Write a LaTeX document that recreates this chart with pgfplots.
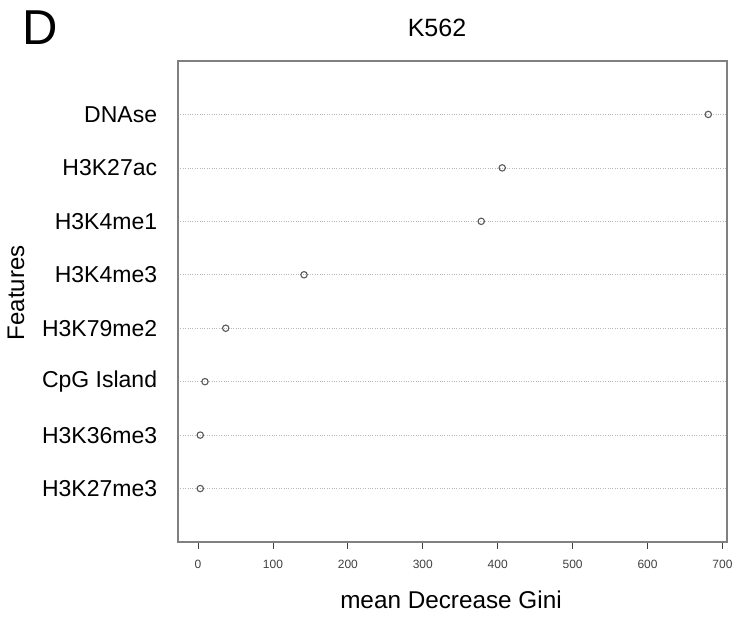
\documentclass[border=0pt]{standalone}
\usepackage{pgfplots}
\pgfplotsset{compat=1.18}
\usepackage{fontspec}
\setmainfont{Liberation Sans}
\begin{document}
\begin{tikzpicture}[x=1pt,y=1pt]
\useasboundingbox (0,0) rectangle (750,617);
\begin{axis}[
  at={(178pt,75pt)}, anchor=south west,
  width=549pt, height=481pt, scale only axis,
  xmin=-26.7, xmax=706, ymin=0, ymax=9,
  xtick={0,100,...,700},
  ytick={1,...,8},
  yticklabels={H3K27me3,H3K36me3,CpG Island,H3K79me2,H3K4me3,H3K4me1,H3K27ac,DNAse},
  axis line style={draw=black!50, line width=1.2pt},
  xtick pos=lower, ytick pos=left,
  tick align=outside,
  x tick style={draw=black!75, line width=0.8pt},
  major tick length=7pt,
  ytick style={draw=none},
  y tick label style={font=\fontsize{23}{23}\selectfont, anchor=east, inner sep=0pt, xshift=-13.7pt},
  x tick label style={font=\fontsize{12}{12}\selectfont, text=black!75, anchor=center, inner sep=0pt, yshift=-15pt},
  /pgf/number format/assume math mode=true,
  ymajorgrids, grid style={dotted, black!28, line width=0.6pt},
  clip=false,
]
\addplot[only marks, mark=o, mark size=3.2pt, mark options={draw=black!65, line width=1.1pt, fill=white}]
  coordinates {(3,1) (3,2) (9.3,3) (37,4) (141.5,5) (378,6) (406,7) (681,8)};
\end{axis}
\node[font=\fontsize{49}{49}\selectfont] at (40,589.5) {D};
\node[font=\fontsize{25}{25}\selectfont] at (437,589.5) {K562};
\node[font=\fontsize{24}{24}\selectfont, rotate=90] at (16,324) {Features};
\node[font=\fontsize{24.3}{24.3}\selectfont] at (451,17) {mean Decrease Gini};
\end{tikzpicture}
\end{document}
